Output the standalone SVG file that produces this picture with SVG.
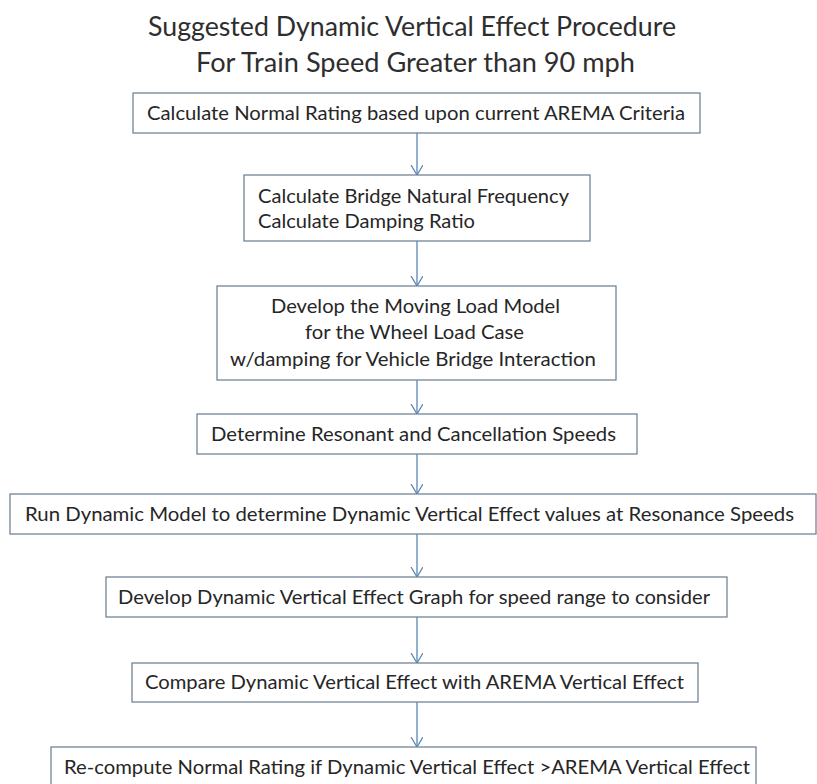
<svg xmlns="http://www.w3.org/2000/svg" width="817" height="784" viewBox="0 0 817 784">
<style>
.box{fill:#ffffff;stroke:#728597;stroke-width:1.3}
.t{font-family:Lato,"Open Sans","Liberation Sans",sans-serif;font-size:19px;fill:#262626}
.title{font-family:Lato,"Open Sans","Liberation Sans",sans-serif;font-size:27px;fill:#2e2e2e}
.conn line,.conn path{stroke:#5b86b5;stroke-width:1.3;fill:none}
</style>
<defs>
<marker id="arr" markerWidth="14" markerHeight="14" refX="10" refY="6" orient="auto" markerUnits="userSpaceOnUse">
<path d="M0,0 L10,6 L0,12" fill="none" stroke="#5b86b5" stroke-width="1.3"/>
</marker>
</defs>
<rect width="817" height="784" fill="#ffffff"/>
<g id="title">
<text class="title" x="148" y="36" textLength="528" lengthAdjust="spacingAndGlyphs">Suggested Dynamic Vertical Effect Procedure</text>
<text class="title" x="196" y="72" textLength="439" lengthAdjust="spacingAndGlyphs">For Train Speed Greater than 90 mph</text>
</g>
<g class="conn" id="connectors">
<line x1="417" y1="133" x2="417" y2="175" marker-end="url(#arr)"/>
<line x1="417" y1="241" x2="417" y2="286" marker-end="url(#arr)"/>
<line x1="417" y1="380" x2="417" y2="414" marker-end="url(#arr)"/>
<line x1="417" y1="454" x2="417" y2="494" marker-end="url(#arr)"/>
<line x1="417" y1="534" x2="417" y2="577" marker-end="url(#arr)"/>
<line x1="417" y1="617" x2="417" y2="663" marker-end="url(#arr)"/>
<line x1="417" y1="702" x2="417" y2="747" marker-end="url(#arr)"/>
</g>
<g id="n1">
<rect class="box" x="133" y="93" width="567" height="40"/>
<text class="t" x="147" y="120" textLength="538" lengthAdjust="spacingAndGlyphs">Calculate Normal Rating based upon current AREMA Criteria</text>
</g>
<g id="n2">
<rect class="box" x="244" y="175" width="346" height="66"/>
<text class="t" x="258" y="203" textLength="311" lengthAdjust="spacingAndGlyphs">Calculate Bridge Natural Frequency</text>
<text class="t" x="258" y="228" textLength="217" lengthAdjust="spacingAndGlyphs">Calculate Damping Ratio</text>
</g>
<g id="n3">
<rect class="box" x="217" y="286" width="399" height="94"/>
<text class="t" x="271" y="313" textLength="289" lengthAdjust="spacingAndGlyphs">Develop the Moving Load Model</text>
<text class="t" x="305" y="339" textLength="219" lengthAdjust="spacingAndGlyphs">for the Wheel Load Case</text>
<text class="t" x="230" y="366" textLength="366" lengthAdjust="spacingAndGlyphs">w/damping for Vehicle Bridge Interaction</text>
</g>
<g id="n4">
<rect class="box" x="197" y="414" width="440" height="40"/>
<text class="t" x="211" y="441" textLength="405" lengthAdjust="spacingAndGlyphs">Determine Resonant and Cancellation Speeds</text>
</g>
<g id="n5">
<rect class="box" x="10" y="494" width="806" height="40"/>
<text class="t" x="25" y="521" textLength="769" lengthAdjust="spacingAndGlyphs">Run Dynamic Model to determine Dynamic Vertical Effect values at Resonance Speeds</text>
</g>
<g id="n6">
<rect class="box" x="106" y="577" width="621" height="40"/>
<text class="t" x="118" y="604" textLength="592" lengthAdjust="spacingAndGlyphs">Develop Dynamic Vertical Effect Graph for speed range to consider</text>
</g>
<g id="n7">
<rect class="box" x="132" y="663" width="566" height="39"/>
<text class="t" x="145" y="689" textLength="539" lengthAdjust="spacingAndGlyphs">Compare Dynamic Vertical Effect with AREMA Vertical Effect</text>
</g>
<g id="n8">
<rect class="box" x="51" y="747" width="705" height="45"/>
<text class="t" x="64" y="774" textLength="686" lengthAdjust="spacingAndGlyphs">Re-compute Normal Rating if Dynamic Vertical Effect &gt;AREMA Vertical Effect</text>
</g>
</svg>
